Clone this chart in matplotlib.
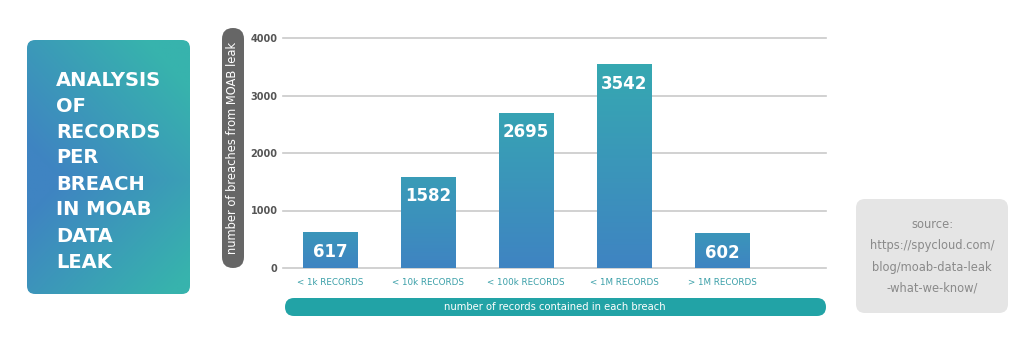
import numpy as np
import matplotlib.pyplot as plt
from matplotlib.patches import FancyBboxPatch
from matplotlib.colors import LinearSegmentedColormap

# data
categories = ['< 1k RECORDS', '< 10k RECORDS', '< 100k RECORDS', '< 1M RECORDS', '> 1M RECORDS']
breaches = [617, 1582, 2695, 3542, 602]
y_ticks = [0, 1000, 2000, 3000, 4000]

title_lines = ['ANALYSIS', 'OF', 'RECORDS', 'PER', 'BREACH', 'IN MOAB', 'DATA', 'LEAK']
source_lines = ['source:', 'https://spycloud.com/', 'blog/moab-data-leak', '-what-we-know/']

TEAL = '#35abb0'
BLUE = '#3f84c2'
GRID = '#c9c9c9'
plt.rcParams['font.family'] = ['DejaVu Sans']

W, H = 1024, 338
fig = plt.figure(figsize=(W / 100, H / 100), dpi=100)
fig.patch.set_facecolor('white')


def fig_rect(x0, y0, x1, y1):
    # pixel box (top-left origin) -> figure fractions
    return [x0 / W, 1 - y1 / H, (x1 - x0) / W, (y1 - y0) / H]


def pill(x0, y0, x1, y1, color, pad_px):
    r = fig_rect(x0, y0, x1, y1)
    p = FancyBboxPatch((r[0], r[1]), r[2], r[3], transform=fig.transFigure,
                       boxstyle=f'round,pad=0,rounding_size={pad_px / W}',
                       facecolor=color, edgecolor='none', zorder=0,
                       mutation_aspect=W / H)
    fig.patches.append(p)
    return p


# left title card with a gradient fill
card = fig.add_axes(fig_rect(27, 40, 190, 294))
card.set_axis_off()
gx, gy = np.meshgrid(np.linspace(0, 1, 120), np.linspace(0, 1, 200))
blend = np.clip(0.75 * gx + 1.1 * np.abs(gy - 0.55) - 0.15, 0, 1)
cmap_card = LinearSegmentedColormap.from_list('card', [BLUE, '#37b3ad'])
im = card.imshow(blend, cmap=cmap_card, extent=(0, 1, 0, 1), aspect='auto', origin='upper')
clip = FancyBboxPatch((0, 0), 1, 1, transform=card.transAxes,
                      boxstyle='round,pad=0,rounding_size=0.05',
                      mutation_aspect=163 / 254, facecolor='none', edgecolor='none')
card.add_patch(clip)
im.set_clip_path(clip)
for i, line in enumerate(title_lines):
    fig.text(56 / W, 1 - (80 + i * 26) / H, line, color='white', fontsize=14,
             fontweight='bold', va='center', ha='left')

# y-axis label pill
pill(222, 28, 244, 268, '#666666', 11)
fig.text(233 / W, 1 - 148 / H, 'number of breaches from MOAB leak', rotation=90,
         color='white', fontsize=8.3, ha='center', va='center')

# x-axis label pill
pill(285, 298, 826, 316, '#22a3a6', 9)
fig.text(555 / W, 1 - 307 / H, 'number of records contained in each breach',
         color='white', fontsize=7.2, ha='center', va='center')

# source card
pill(856, 199, 1008, 313, '#e5e5e5', 9)
for i, line in enumerate(source_lines):
    fig.text(932 / W, 1 - (225 + i * 21) / H, line, color='#8a8a8a', fontsize=8.3,
             ha='center', va='center')

# bar chart
ax = fig.add_axes(fig_rect(283, 38, 826, 268))
ax.set_xlim(-0.48, 5.06)
ax.set_ylim(0, 4000)
ax.set_yticks(y_ticks)
ax.set_yticklabels([str(t) for t in y_ticks], fontsize=7, fontweight='bold', color='#555555')
ax.set_xticks(range(len(categories)))
ax.set_xticklabels(categories, fontsize=6.3, color='#3a9fa8')
ax.tick_params(length=0, pad=4)
ax.tick_params(axis='x', pad=7)
for s in ax.spines.values():
    s.set_visible(False)
ax.set_facecolor('none')
for t in y_ticks:
    ax.axhline(t, color=GRID, lw=1.2, zorder=0, clip_on=False)

bar_w = 0.56
cmap_bar = LinearSegmentedColormap.from_list('bar', [BLUE, TEAL])
grad = np.linspace(1, 0, 100).reshape(-1, 1)
bars = ax.bar(range(len(breaches)), breaches, width=bar_w, color='none', zorder=2)
for i, (b, v) in enumerate(zip(bars, breaches)):
    top = 0.35 + 0.65 * v / 4000
    ax.imshow(grad * top, cmap=cmap_bar, vmin=0, vmax=1, aspect='auto',
              extent=(i - bar_w / 2, i + bar_w / 2, 0, v), zorder=2)
    ax.annotate(str(v), (i, v), xytext=(0, -14), textcoords='offset points',
                ha='center', va='center', color='white', fontsize=12,
                fontweight='bold', zorder=3)
ax.set_xlim(-0.48, 5.06)
ax.set_ylim(0, 4000)

fig.savefig('out.png', dpi=100)
